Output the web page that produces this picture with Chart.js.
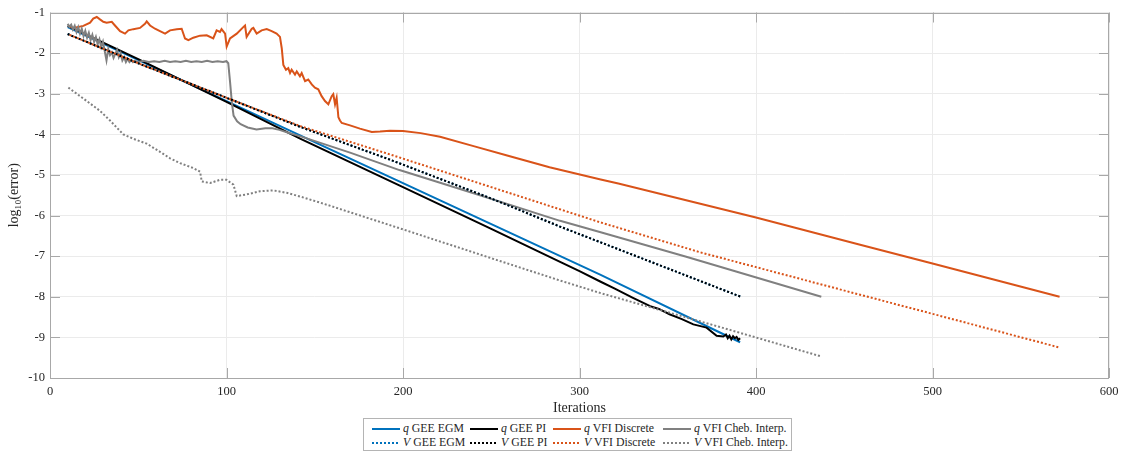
<!DOCTYPE html>
<html>
<head>
<meta charset="utf-8">
<title>Convergence of solution methods</title>
<script src="https://cdn.jsdelivr.net/npm/chart.js@4.4.0/dist/chart.umd.min.js"></script>
<style>
  body { margin: 0; background: #fff; }
  #wrap { position: relative; width: 1125px; height: 417px; }
  #legend {
    position: absolute; left: 363px; top: 418px; width: 429px; height: 33px;
    box-sizing: border-box; border: 1px solid #b4b4b4; background: #fff;
    padding: 3px 0 0 8px;
    display: grid; grid-template-columns: 98px 83px 110px auto;
    font: 11.8px "Liberation Serif", "Times New Roman", serif; color: #262626;
  }
  .item { display: flex; align-items: center; height: 13.5px; white-space: nowrap; }
  .swatch { width: 28px; height: 2px; margin-right: 3px; flex: none; }
</style>
</head>
<body>
<div id="wrap"><canvas id="chart"></canvas></div>
<div id="legend"></div>
<script>
// q GEE EGM
const qEgmX = [10, 142, 312, 381, 391];
const qEgmY = [-1.36, -4.03, -7.46, -8.91, -9.12];

// q GEE PI
const qPiX = [10, 50, 100, 142, 200, 250, 289, 300, 312, 320, 330, 340, 345, 351, 358, 364.5, 372,
  377.7, 381.5, 383, 384, 385, 386, 387, 388, 389, 390, 391];
const qPiY = [-1.33, -2.15, -3.2, -4.11, -5.3, -6.33, -7.14, -7.37, -7.63, -7.8, -8.02, -8.23, -8.3, -8.43, -8.55, -8.68, -8.76,
  -8.96, -8.98, -8.93, -9.02, -8.96, -9.05, -8.97, -9.02, -8.99, -9.06, -9.02];

// q VFI Discrete
const qVfiX = [10.4, 13.2, 18.9, 22.7, 24.5, 26.5, 28.3, 30.2, 32.1, 35, 36.8, 39.7, 42.5, 44.4, 47.2, 51, 53.8, 54.8,
  56.7, 59.5, 62.3, 65.2, 68, 71.8, 74.6, 76.5, 78.4, 81.2, 85, 88.8, 92.5, 94.4, 96.3, 97.2, 99.2, 100.1, 102,
  105.8, 109.5, 110.5, 111.4, 114.3, 115.2, 117.1, 119.9, 122.8, 125.6, 128.4, 130.3, 131.3, 132.2, 133.7, 135,
  136, 136.9, 138.8, 139.8, 141.6, 142.6, 144.5, 146.3, 148.3, 150.1, 152, 153.9, 155.8, 157.7, 159.6, 160.5,
  161.5, 162.4, 163.4, 164.3, 165.3, 170, 175.6, 182.3, 187, 192.6, 200, 210, 221, 240, 259, 283, 312, 322,
  400, 459, 500, 572];
const qVfiY = [-1.33, -1.38, -1.33, -1.25, -1.15, -1.11, -1.17, -1.23, -1.25, -1.23, -1.32, -1.46, -1.52, -1.44, -1.41, -1.38, -1.28, -1.22,
  -1.32, -1.40, -1.46, -1.52, -1.44, -1.41, -1.40, -1.64, -1.68, -1.62, -1.57, -1.56, -1.64, -1.44, -1.48, -1.41, -1.52, -1.84, -1.64,
  -1.52, -1.36, -1.32, -1.60, -1.40, -1.38, -1.52, -1.44, -1.41, -1.46, -1.52, -1.60, -1.88, -2.29, -2.41, -2.37,
  -2.49, -2.41, -2.53, -2.45, -2.57, -2.49, -2.69, -2.65, -2.77, -2.85, -2.89, -3.06, -3.18, -3.26, -3.06, -3.01,
  -3.26, -3.10, -3.58, -3.66, -3.72, -3.78, -3.86, -3.94, -3.93, -3.91, -3.92, -3.97, -4.06, -4.29, -4.52, -4.81, -5.11, -5.21,
  -6.05, -6.72, -7.18, -8.0];

// q VFI Cheb. Interp.
const qChebX = [10, 11, 12, 13, 14, 15, 16, 17, 18, 19, 20, 21, 22, 23, 24, 25, 26, 27, 28, 29, 30, 31, 32, 33, 34,
  35, 36, 37, 38, 39, 40, 41, 42, 43, 44, 45, 46, 47, 48,
  50, 53, 56, 59, 62, 65, 68, 71, 74, 77, 80, 83, 86, 89, 92, 95, 98,
  100, 101, 102, 103, 104, 106, 108, 112, 117, 122, 126, 130, 135, 142, 170, 198, 240, 289, 312, 360, 437];
const qChebY = [-1.28, -1.35, -1.30, -1.42, -1.33, -1.48, -1.36, -1.52, -1.40, -1.58, -1.45, -1.62, -1.50, -1.68, -1.55, -1.72, -1.60, -1.78, -1.66, -1.85, -1.72, -1.95, -2.18, -1.90, -2.05,
  -1.98, -2.12, -2.02, -1.92, -2.10, -2.00, -2.18, -2.10, -2.22, -2.14, -2.22, -2.17, -2.22, -2.19,
  -2.22, -2.19, -2.22, -2.20, -2.22, -2.19, -2.22, -2.20, -2.22, -2.19, -2.22, -2.20, -2.22, -2.19, -2.22, -2.20, -2.22,
  -2.20, -2.25, -2.70, -3.20, -3.54, -3.68, -3.75, -3.83, -3.88, -3.85, -3.85, -3.89, -3.96, -4.05, -4.45, -4.88, -5.45, -6.13, -6.41, -7.01, -8.0];

// V GEE EGM / V GEE PI
const vEgmX = [10, 50, 100, 142, 193, 250, 290, 312, 392];
const vEgmY = [-1.53, -2.25, -3.1, -3.82, -4.63, -5.58, -6.29, -6.66, -8.01];
const vPiX = [10, 50, 100, 142, 193, 250, 290, 312, 392];
const vPiY = [-1.53, -2.25, -3.1, -3.82, -4.63, -5.58, -6.29, -6.66, -8.01];

// V VFI Discrete
const vVfiX = [10, 50, 100, 142, 193, 250, 312, 368, 400, 459, 500, 572];
const vVfiY = [-1.53, -2.25, -3.1, -3.8, -4.5, -5.3, -6.17, -6.9, -7.27, -7.95, -8.42, -9.25];

// V VFI Cheb. Interp.
const vChebX = [10.4, 20.8, 28.3, 34, 41.5, 47.2, 54.8, 62.3, 68, 73.7, 81.2, 85, 86, 90.7, 96.3, 100, 103.9, 105.8,
  111.4, 119, 126.5, 134.1, 141.6, 153, 200, 250, 289, 312, 380, 437];
const vChebY = [-2.85, -3.18, -3.42, -3.66, -4.0, -4.11, -4.23, -4.43, -4.59, -4.71, -4.83, -4.92, -5.16, -5.2, -5.12, -5.12, -5.24, -5.52,
  -5.48, -5.40, -5.38, -5.44, -5.53, -5.68, -6.34, -7.05, -7.6, -7.91, -8.75, -9.47];

const xTicks = [0, 100, 200, 300, 400, 500, 600];
const yTicks = [-10, -9, -8, -7, -6, -5, -4, -3, -2, -1];

const blue = '#0072BD';
const orange = '#D95319';
const grey = '#808080';
const black = '#000000';
const axisColor = '#a8a8a8';
const gridColor = '#ebebeb';
const textColor = '#262626';
const serif = '"Liberation Serif", "Times New Roman", serif';

function pts(xs, ys) {
  return xs.map((x, i) => ({ x: x, y: ys[i] }));
}

const series = [
  { label: 'q GEE EGM', xs: qEgmX, ys: qEgmY, color: blue, dotted: false },
  { label: 'q GEE PI', xs: qPiX, ys: qPiY, color: black, dotted: false },
  { label: 'q VFI Discrete', xs: qVfiX, ys: qVfiY, color: orange, dotted: false },
  { label: 'q VFI Cheb. Interp.', xs: qChebX, ys: qChebY, color: grey, dotted: false },
  { label: 'V GEE EGM', xs: vEgmX, ys: vEgmY, color: blue, dotted: true },
  { label: 'V GEE PI', xs: vPiX, ys: vPiY, color: black, dotted: true },
  { label: 'V VFI Discrete', xs: vVfiX, ys: vVfiY, color: orange, dotted: true, offset: 2 },
  { label: 'V VFI Cheb. Interp.', xs: vChebX, ys: vChebY, color: grey, dotted: true }
];

// later series on top, like in matlab
const datasets = series.map((s, i) => ({
  label: s.label,
  data: pts(s.xs, s.ys),
  borderColor: s.color,
  backgroundColor: s.color,
  borderWidth: 2,
  borderDash: s.dotted ? [2, 2] : [],
  borderDashOffset: s.offset || 0,
  pointRadius: 0,
  tension: 0,
  fill: false,
  order: series.length - i
}));

// box round the plot area and inward tick marks
const framePlugin = {
  id: 'frame',
  beforeDatasetsDraw(chart) {
    const { ctx, chartArea: a, scales } = chart;
    ctx.save();
    ctx.strokeStyle = axisColor;
    ctx.lineWidth = 1;
    ctx.beginPath();
    xTicks.forEach(v => {
      const px = Math.round(scales.x.getPixelForValue(v)) + 0.5;
      ctx.moveTo(px, a.bottom); ctx.lineTo(px, a.bottom - 10);
      ctx.moveTo(px, a.top); ctx.lineTo(px, a.top + 10);
    });
    yTicks.forEach(v => {
      const py = Math.round(scales.y.getPixelForValue(v)) + 0.5;
      ctx.moveTo(a.left, py); ctx.lineTo(a.left + 10, py);
      ctx.moveTo(a.right, py); ctx.lineTo(a.right - 10, py);
    });
    ctx.stroke();
    ctx.strokeRect(Math.round(a.left) + 0.5, Math.round(a.top) + 0.5, Math.round(a.width) - 1, Math.round(a.height) - 1);
    ctx.restore();
  }
};

new Chart(document.getElementById('chart'), {
  type: 'line',
  data: { datasets: datasets },
  options: {
    responsive: true,
    maintainAspectRatio: false,
    animation: false,
    devicePixelRatio: 1,
    layout: { padding: { top: 7, right: 16, left: 0, bottom: 0 } },
    plugins: { legend: { display: false }, tooltip: { enabled: false } },
    scales: {
      x: {
        type: 'linear', min: 0, max: 600,
        ticks: { stepSize: 100, padding: 6, color: textColor, font: { family: serif, size: 12.5 } },
        grid: { color: gridColor, drawTicks: false },
        border: { display: false },
        title: { display: true, text: 'Iterations', color: textColor, font: { family: serif, size: 14 }, padding: { top: 0, bottom: 0 } },
        afterFit: s => { s.height = 39; }
      },
      y: {
        type: 'linear', min: -10, max: -1,
        ticks: { stepSize: 1, padding: 5, color: textColor, font: { family: serif, size: 12.5 } },
        grid: { color: gridColor, drawTicks: false },
        border: { display: false },
        title: { display: true, text: 'log\u2081\u2080(error)', color: textColor, font: { family: serif, size: 14 }, padding: { top: 6, bottom: 0 } },
        afterFit: s => { s.width = 50; }
      }
    }
  },
  plugins: [framePlugin]
});

// legend, 4 columns x 2 rows
const legendEl = document.getElementById('legend');
series.forEach(s => {
  const item = document.createElement('div');
  item.className = 'item';
  const sw = document.createElement('span');
  sw.className = 'swatch';
  sw.style.background = s.dotted
    ? 'repeating-linear-gradient(90deg, ' + s.color + ' 0 2px, transparent 2px 4px)'
    : s.color;
  const txt = document.createElement('span');
  const letter = document.createElement('i');
  letter.textContent = s.label.charAt(0);
  txt.appendChild(letter);
  txt.appendChild(document.createTextNode(s.label.slice(1)));
  item.appendChild(sw);
  item.appendChild(txt);
  legendEl.appendChild(item);
});
</script>
</body>
</html>
